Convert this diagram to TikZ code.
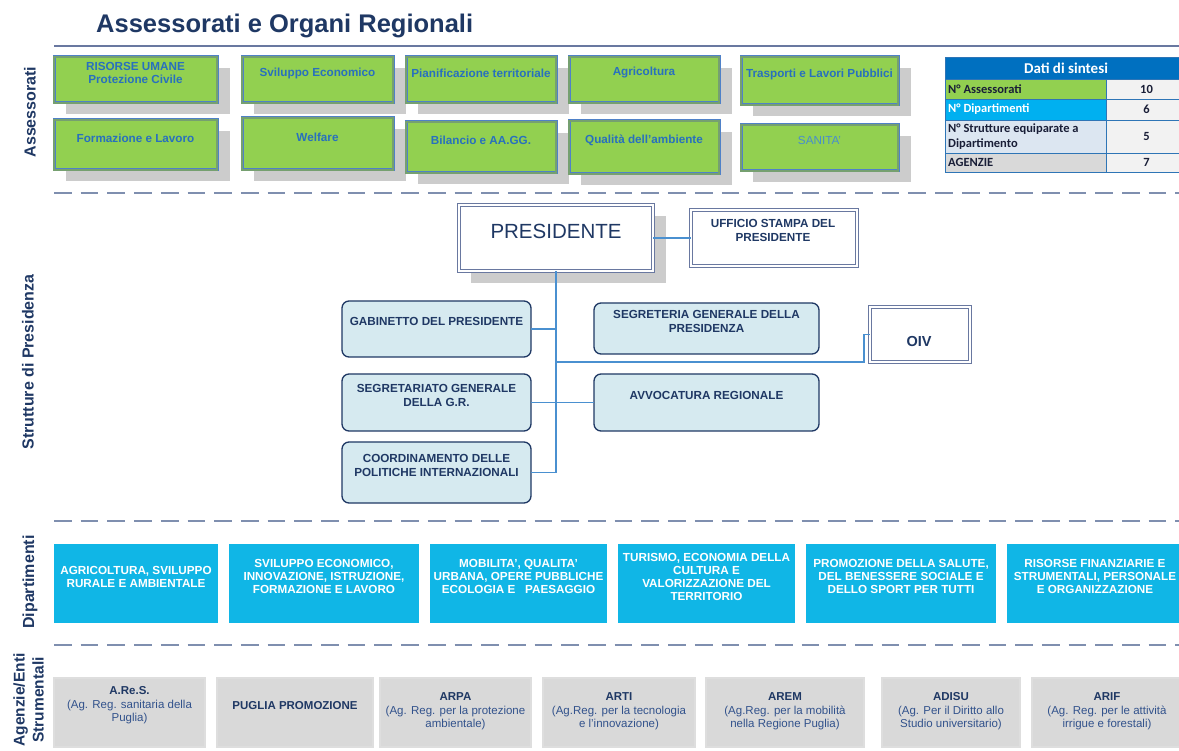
\documentclass[tikz,border=0pt]{standalone}
\usepackage{fontspec}
\setmainfont{Liberation Sans}
\newfontfamily\calib{Carlito}
\newcommand\myfs[2]{\fontsize{#1}{#2}\selectfont}
\definecolor{navy}{RGB}{31,56,100}
\definecolor{gfill}{RGB}{146,208,80}
\definecolor{gborder}{RGB}{79,129,200}
\definecolor{gmid}{RGB}{118,160,112}
\definecolor{gtext}{RGB}{40,112,190}
\definecolor{gtextl}{RGB}{72,142,205}
\definecolor{shad}{RGB}{204,204,204}
\definecolor{dfill}{RGB}{16,182,230}
\definecolor{pfill}{RGB}{214,234,240}
\definecolor{connc}{RGB}{74,144,208}
\definecolor{dashc}{RGB}{127,143,175}
\definecolor{presb}{RGB}{105,120,160}
\definecolor{agfill}{RGB}{217,217,217}
\definecolor{agborder}{RGB}{190,190,190}
\definecolor{agmid}{RGB}{222,222,222}
\definecolor{agtext}{RGB}{50,82,140}
\definecolor{tblue}{RGB}{0,112,192}
\definecolor{tcyan}{RGB}{0,176,240}
\definecolor{tlight}{RGB}{220,230,241}
\definecolor{tgray}{RGB}{217,217,217}
\definecolor{tval}{RGB}{242,242,242}
\definecolor{tgrid}{RGB}{46,117,182}
\definecolor{tdark}{RGB}{25,30,55}
\newcommand\bx[6]{\node[#1, minimum width={#4-#2}, minimum height={#5-#3}] (#6) at (#2,#3) {};}
\newcommand\gbx[7]{%
  \fill[shad] (#2+12,#3+11) rectangle (#4+13,#5+11);
  \bx{gbox}{#2}{#3}{#4}{#5}{#1}
  \node[gtxt] (#1t) at ({(#2+#4)/2},#6) {#7};}
\newcommand\dbx[5]{%
  \bx{dbox}{#2}{544}{#3}{623}{#1}
  \node[dtxt] (#1t) at ({(#2+#3)/2},#4) {#5};}
\newcommand\abx[5]{%
  \bx{agbox}{#2}{678}{#3}{747}{#1}
  \node[agtxt] (#1t) at ({(#2+#3)/2},#4) {#5};}
\begin{document}
\begin{tikzpicture}[x=1pt,y=-1pt,
  gbox/.style={draw=gborder, double=gmid, line width=0.8pt, double distance=1.4pt, fill=gfill, anchor=north west, inner sep=0pt, outer sep=0pt},
  gtxt/.style={font=\myfs{11.7}{13}\bfseries, text=gtext, align=center, inner sep=0pt},
  presbox/.style={draw=presb, double=white, line width=1pt, double distance=1.6pt, fill=white, anchor=north west, inner sep=0pt, outer sep=0pt},
  pbox/.style={draw=navy, line width=1.3pt, fill=pfill, rounded corners=7pt, anchor=north west, inner sep=0pt, outer sep=0pt},
  ptxt/.style={font=\myfs{11.7}{14}\bfseries, text=navy, align=center, inner sep=0pt},
  dbox/.style={fill=dfill, anchor=north west, inner sep=0pt, outer sep=0pt},
  dtxt/.style={font=\myfs{11.7}{13}\bfseries, text=white, align=center, inner sep=0pt},
  agbox/.style={draw=agborder, double=agmid, line width=0.8pt, double distance=1.2pt, fill=agfill, anchor=north west, inner sep=0pt, outer sep=0pt},
  agtxt/.style={font=\myfs{11.5}{13.5}, text=agtext, align=center, inner sep=0pt},
  side/.style={font=\myfs{16}{19}\bfseries, text=navy, rotate=90, align=center, inner sep=0pt},
  conn/.style={draw=connc, line width=1.1pt},
  dashln/.style={draw=dashc, line width=2pt, dash pattern=on 17.7pt off 9pt},
  tcell/.style={draw=tgrid, line width=0.9pt, anchor=north west, inner sep=0pt, outer sep=0pt},
  ttxt/.style={font=\calib\myfs{12.5}{14.5}\bfseries, text=tdark, inner sep=0pt, align=left, anchor=west}]
\useasboundingbox (0,0) rectangle (1179,751);
\fill[white] (0,0) rectangle (1179,751);

% title
\node[font=\myfs{25.5}{30}\bfseries, text=navy, anchor=west, inner sep=0pt] (title) at (96,26) {Assessorati e Organi Regionali};
\draw[draw=presb, line width=1.3pt] (54,46) -- (1179,46);

% section separators
\draw[dashln] (54,193) -- (1179,193);
\draw[dashln] (54,521) -- (1179,521);
\draw[dashln] (54,645) -- (1179,645);

% side labels
\node[side] (lab1) at (30,112) {Assessorati};
\node[side] (lab2) at (28,362) {Strutture di Presidenza};
\node[side] (lab3) at (30,582) {Dipartimenti};
\node[side, font=\myfs{15.5}{19}\bfseries] (lab4) at (28.5,700) {Agenzie/Enti\\Strumentali};

% assessorati
\gbx{a1}{54}{57}{217}{103}{72.5}{RISORSE UMANE\\Protezione Civile}
\gbx{a2}{242}{57}{393}{103}{73}{Sviluppo Economico}
\gbx{a3}{406}{57}{556}{103}{73}{Pianificazione territoriale}
\gbx{a4}{569}{57}{719}{103}{73}{Agricoltura}
\gbx{a5}{741}{57}{898}{105}{74}{Trasporti e Lavori Pubblici}
\gbx{b1}{54}{120}{217}{170}{138}{Formazione e Lavoro}
\gbx{b2}{242}{118}{393}{170}{137}{Welfare}
\gbx{b3}{406}{122}{556}{173}{140}{Bilancio e AA.GG.}
\gbx{b4}{569}{121}{719}{174}{140}{Qualità dell’ambiente}
\gbx{b5}{741}{125}{898}{171}{140}{{\mdseries\color{gtextl}SANITA’}}

% table
\node[tcell, fill=tblue, minimum width=242, minimum height=22, font=\calib\myfs{15}{17}\bfseries, text=white] (th) at (945,57) {Dati di sintesi};
\bx{tcell, fill=gfill}{945}{79}{1106}{99}{l1}
\bx{tcell, fill=tcyan}{945}{99}{1106}{120}{l2}
\bx{tcell, fill=tlight}{945}{120}{1106}{153}{l3}
\bx{tcell, fill=tgray}{945}{153}{1106}{172}{l4}
\node[tcell, fill=tval, minimum width=81, minimum height=20, font=\calib\myfs{12.5}{14}\bfseries, text=tdark] (v1) at (1106,79) {10};
\node[tcell, fill=tval, minimum width=81, minimum height=21, font=\calib\myfs{12.5}{14}\bfseries, text=tdark] (v2) at (1106,99) {6};
\node[tcell, fill=tval, minimum width=81, minimum height=33, font=\calib\myfs{12.5}{14}\bfseries, text=tdark] (v3) at (1106,120) {5};
\node[tcell, fill=tval, minimum width=81, minimum height=19, font=\calib\myfs{12.5}{14}\bfseries, text=tdark] (v4) at (1106,153) {7};
\node[ttxt] (l1t) at (948,89) {N° Assessorati};
\node[ttxt, text=white] (l2t) at (948,109.5) {N° Dipartimenti};
\node[ttxt] (l3t) at (948,136.5) {N° Strutture equiparate a\\Dipartimento};
\node[ttxt] (l4t) at (948,162.5) {AGENZIE};

% presidenza
\fill[shad] (471,216) rectangle (666,283);
\bx{presbox}{459}{205}{653}{271}{pres}
\node[font=\myfs{20.5}{24}, text=navy, inner sep=0pt] (prest) at (556,231) {PRESIDENTE};
\bx{presbox}{691}{210}{857}{266}{uff}
\node[ptxt] (ufft) at (773,230.5) {UFFICIO STAMPA DEL\\PRESIDENTE};
\bx{presbox}{870}{307}{970}{362}{oiv}
\node[font=\myfs{14.5}{16}\bfseries, text=navy, inner sep=0pt] (oivt) at (919,342) {OIV};
\bx{pbox}{342}{301}{531}{357}{gab}
\node[ptxt] (gabt) at (436.5,321) {GABINETTO DEL PRESIDENTE};
\bx{pbox}{594}{303}{819}{354}{segp}
\node[ptxt] (segpt) at (706.5,321) {SEGRETERIA GENERALE DELLA\\PRESIDENZA};
\bx{pbox}{342}{374}{531}{431}{segr}
\node[ptxt] (segrt) at (436.5,395) {SEGRETARIATO GENERALE\\DELLA G.R.};
\bx{pbox}{594}{374}{819}{431}{avv}
\node[ptxt] (avvt) at (706.5,395) {AVVOCATURA REGIONALE};
\bx{pbox}{342}{442}{531}{503}{coord}
\node[ptxt] (coordt) at (436.5,465.5) {COORDINAMENTO DELLE\\POLITICHE INTERNAZIONALI};

% connectors
\draw[conn] (pres.east) -- (uff.west);
\coordinate (vb) at (pres.south |- coord.east);
\draw[conn] (pres.south) -- (vb) -- (coord.east);
\draw[conn] (gab.east) -- (gab.east -| pres.south);
\draw[conn] (segr.east) -- (avv.west);
\coordinate (jn) at (pres.south |- oiv.south);
\draw[conn] (jn) -- ++(308,0) |- (oiv.west);

% dipartimenti
\dbx{d1}{54}{218}{576.5}{AGRICOLTURA, SVILUPPO\\RURALE E AMBIENTALE}
\dbx{d2}{229}{419}{576.5}{SVILUPPO ECONOMICO,\\INNOVAZIONE, ISTRUZIONE,\\FORMAZIONE E LAVORO}
\dbx{d3}{430}{607}{576.5}{MOBILITA’, QUALITA’\\URBANA, OPERE PUBBLICHE\\ECOLOGIA E\ \ \ PAESAGGIO}
\dbx{d4}{618}{795}{576.5}{TURISMO, ECONOMIA DELLA\\CULTURA E\\VALORIZZAZIONE DEL\\TERRITORIO}
\dbx{d5}{806}{996}{576.5}{PROMOZIONE DELLA SALUTE,\\DEL BENESSERE SOCIALE E\\DELLO SPORT PER TUTTI}
\dbx{d6}{1007}{1183}{576.5}{RISORSE FINANZIARIE E\\STRUMENTALI, PERSONALE\\E ORGANIZZAZIONE}

% agenzie
\abx{g1}{54}{205}{705.5}{{\bfseries\color{navy}A.Re.S.}\\(Ag. Reg. sanitaria della\\Puglia)}
\abx{g2}{217}{373}{706}{{\bfseries\color{navy}PUGLIA PROMOZIONE}}
\abx{g3}{380}{531}{711.5}{{\bfseries\color{navy}ARPA}\\(Ag. Reg. per la protezione\\ambientale)}
\abx{g4}{543}{695}{711.5}{{\bfseries\color{navy}ARTI}\\(Ag.Reg. per la tecnologia\\e l’innovazione)}
\abx{g5}{706}{864}{711.5}{{\bfseries\color{navy}AREM}\\(Ag.Reg. per la mobilità\\nella Regione Puglia)}
\abx{g6}{882}{1020}{711.5}{{\bfseries\color{navy}ADISU}\\(Ag. Per il Diritto allo\\Studio universitario)}
\abx{g7}{1032}{1182}{711.5}{{\bfseries\color{navy}ARIF}\\(Ag. Reg. per le attività\\irrigue e forestali)}
\end{tikzpicture}
\end{document}
